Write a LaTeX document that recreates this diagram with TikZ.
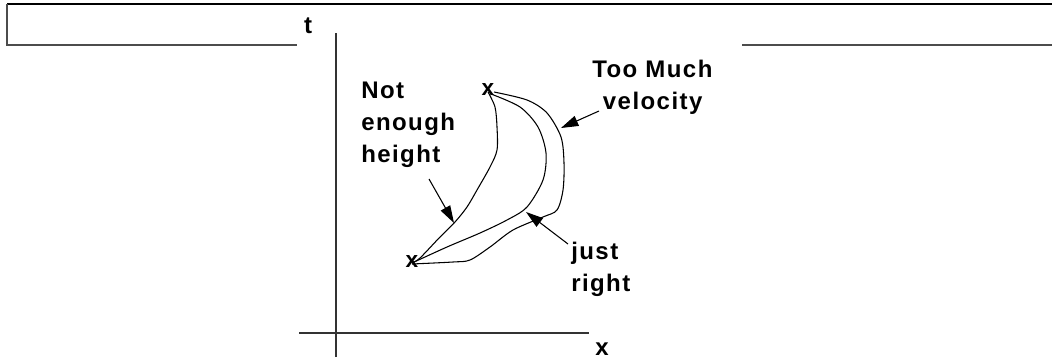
\documentclass[tikz,border=0pt]{standalone}
\usepackage{fontspec}
\setsansfont{Liberation Sans}
\newfontfamily\lblfont{Liberation Sans}[LetterSpace=6]
\usetikzlibrary{arrows.meta}
\begin{document}
\begin{tikzpicture}[x=0.75pt,y=-0.75pt,
  lbl/.style={font=\lblfont\bfseries\fontsize{18}{24}\selectfont,align=left,inner sep=0pt,anchor=west},
  ptmark/.style={font=\sffamily\bfseries\fontsize{17}{17}\selectfont,inner sep=0pt},
  curve/.style={line width=0.8pt,black},
  pointer/.style={line width=0.8pt,-{Triangle[length=13pt,width=8pt]}},
  axis/.style={line width=1.3pt,black!80},
  frametop/.style={line width=1.2pt,black},
  frameside/.style={line width=1.2pt,black!70}]
\useasboundingbox (0,0) rectangle (1052,360);
% frame
\draw[frametop] (7,4) -- (1052,4);
\draw[frameside] (7,4) -- (7,45) -- (297,45);
\draw[frameside] (742,45) -- (1052,45);
% axes
\coordinate (tb) at (336,357);
\coordinate (tt) at (336,33);
\coordinate (xl) at (299,333);
\coordinate (xr) at (589,333);
\draw[axis] (tb) -- (tt);
\draw[axis] (xl) -- (xr);
\node[lbl,anchor=center] (tlab) at (308,26) {t};
\node[lbl,anchor=center] (xlab) at (602,349) {x};
% points
\node[ptmark] (lo) at (412,262) {x};
\node[ptmark] (hi) at (488,90) {x};
% not enough height
\draw[curve] plot[smooth,tension=0.5] coordinates {(488,92) (495,107) (497,127) (497,150) (490,167) (477,190) (467,207) (455,222) (440,237) (420,258) (412,263)};
% just right
\draw[curve] plot[smooth,tension=0.5] coordinates {(491,94) (520,107) (538,127) (546,153) (543,180) (527,207) (507,220) (480,233) (447,247) (412,263)};
% too much velocity
\draw[curve] plot[smooth,tension=0.5] coordinates {(494,92) (527,100) (547,113) (561,137) (564,163) (563,190) (557,210) (543,217) (513,230) (490,247) (470,260) (453,262) (412,264)};
% labels
\node[lbl] (neh) at (361,125) {Not\\enough\\height};
\node[lbl] (tmv) at (592,87) {Too Much\\\hspace*{8pt}velocity};
\node[lbl] (jr) at (571,269) {just\\right};
\coordinate (a1s) at (429,179);
\coordinate (a1e) at (454,223);
\coordinate (a2s) at (599,111);
\coordinate (a2e) at (561,128);
\coordinate (a3s) at (568,244);
\coordinate (a3e) at (526,212);
\draw[pointer] (a1s) -- (a1e);
\draw[pointer] (a2s) -- (a2e);
\draw[pointer] (a3s) -- (a3e);
\end{tikzpicture}
\end{document}
